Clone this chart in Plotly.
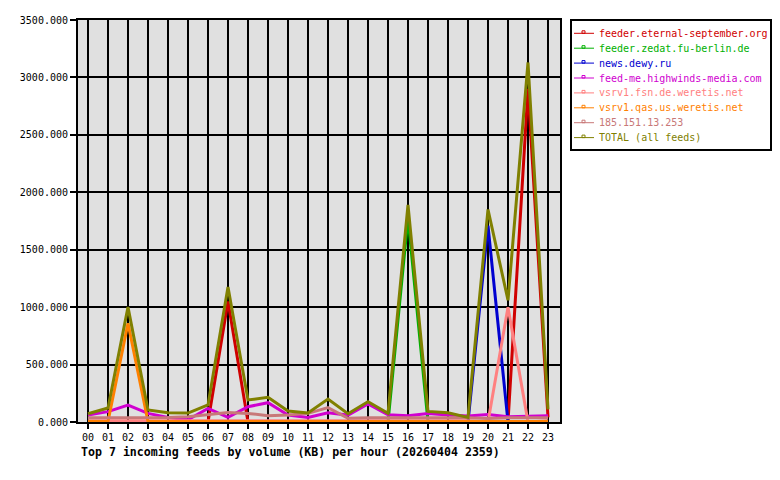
import plotly.graph_objects as go

hours = ["%02d" % h for h in range(24)]

names = [
    "feeder.eternal-september.org",
    "feeder.zedat.fu-berlin.de",
    "news.dewy.ru",
    "feed-me.highwinds-media.com",
    "vsrv1.fsn.de.weretis.net",
    "vsrv1.qas.us.weretis.net",
    "185.151.13.253",
    "TOTAL (all feeds)",
]
colors = ["#d00000", "#00b000", "#0000d0", "#d000d0", "#ff8080", "#ff8000", "#c87878", "#808000"]

eternal = [0, 0, 0, 0, 0, 0, 0, 1050, 0, 0, 0, 0, 0, 0, 0, 0, 0, 0, 0, 0, 0, 0, 2900, 40]
zedat = [0, 0, 0, 0, 0, 0, 0, 0, 0, 0, 0, 0, 0, 0, 0, 0, 1780, 0, 0, 0, 0, 0, 0, 0]
dewy = [0, 0, 0, 0, 0, 0, 0, 0, 0, 0, 0, 0, 0, 0, 0, 0, 0, 0, 0, 0, 1710, 0, 0, 0]
highwinds = [60, 90, 148, 75, 40, 20, 119, 40, 133, 168, 60, 40, 81, 60, 157, 63, 55, 75, 62, 52, 65, 45, 50, 55]
fsn = [10, 10, 10, 10, 10, 10, 10, 10, 10, 10, 10, 10, 10, 10, 10, 10, 10, 10, 10, 10, 0, 1000, 0, 10]
qas = [5, 5, 860, 5, 5, 5, 5, 5, 5, 5, 5, 5, 5, 5, 5, 5, 5, 5, 5, 5, 5, 5, 5, 5]
ip185 = [38, 38, 35, 38, 40, 45, 67, 83, 75, 55, 60, 75, 125, 32, 38, 38, 38, 38, 38, 38, 30, 38, 38, 38]
total = [72, 122, 1000, 105, 80, 78, 148, 1175, 192, 215, 95, 78, 200, 72, 177, 75, 1890, 92, 81, 40, 1850, 1060, 3130, 110]

series = [eternal, zedat, dewy, highwinds, fsn, qas, ip185, total]

y_ticks = [0, 500, 1000, 1500, 2000, 2500, 3000, 3500]

MONO = "DejaVu Sans Mono"

fig = go.Figure()
for name, col, vals in zip(names, colors, series):
    fig.add_trace(go.Scatter(
        x=list(range(24)), y=vals, name=name, mode="lines",
        line=dict(color=col, width=3), showlegend=False,
    ))

# plot geometry in pixels
L, R, T, B = 78, 560, 20, 422


def px2x(px):
    return (px - L) / (R - L)


def py2y(py):
    return (B - py) / (B - T)


# manual legend box
shapes = [dict(type="rect", xref="paper", yref="paper",
               x0=px2x(571), x1=px2x(771), y0=py2y(150), y1=py2y(20),
               line=dict(color="black", width=2), fillcolor="white", layer="below")]
annotations = []
for i, (name, col) in enumerate(zip(names, colors)):
    ry = 33.3 + 14.9 * i
    shapes.append(dict(type="line", xref="paper", yref="paper",
                       x0=px2x(574), x1=px2x(594), y0=py2y(ry), y1=py2y(ry),
                       line=dict(color=col, width=1)))
    shapes.append(dict(type="rect", xref="paper", yref="paper",
                       x0=px2x(582), x1=px2x(585), y0=py2y(ry), y1=py2y(ry - 2.5),
                       line=dict(color=col, width=1)))
    annotations.append(dict(xref="paper", yref="paper", x=px2x(597), y=py2y(ry),
                            xanchor="left", yanchor="middle", showarrow=False,
                            text=name, font=dict(family=MONO, size=10, color=col)))

annotations.append(dict(xref="paper", yref="paper", x=px2x(79), y=py2y(452),
                        xanchor="left", yanchor="middle", showarrow=False,
                        text="<b>Top 7 incoming feeds by volume (KB) per hour (20260404 2359)</b>",
                        font=dict(family=MONO, size=11.6, color="black")))

fig.update_layout(
    width=780, height=480,
    margin=dict(l=L, r=780 - R, t=T, b=480 - B, pad=0),
    paper_bgcolor="white", plot_bgcolor="#e0e0e0",
    shapes=shapes, annotations=annotations,
    font=dict(family=MONO, size=10, color="black"),
)
fig.update_xaxes(
    range=[-0.5, 23.6], tickmode="array", tickvals=list(range(24)), ticktext=hours,
    showgrid=True, gridcolor="black", gridwidth=1.5,
    showline=True, mirror=True, linecolor="black", linewidth=2,
    ticks="outside", ticklen=5, tickcolor="black", tickwidth=1.5,
    zeroline=False, tickfont=dict(family=MONO, size=10),
)
fig.update_yaxes(
    range=[0, 3500], tickmode="array", tickvals=y_ticks,
    ticktext=["%.3f" % v for v in y_ticks],
    showgrid=True, gridcolor="black", gridwidth=1.5,
    showline=True, mirror=True, linecolor="black", linewidth=2,
    ticks="outside", ticklen=6, tickcolor="black", tickwidth=1.5,
    zeroline=False, tickfont=dict(family=MONO, size=10),
)

fig.write_html("out.html")
